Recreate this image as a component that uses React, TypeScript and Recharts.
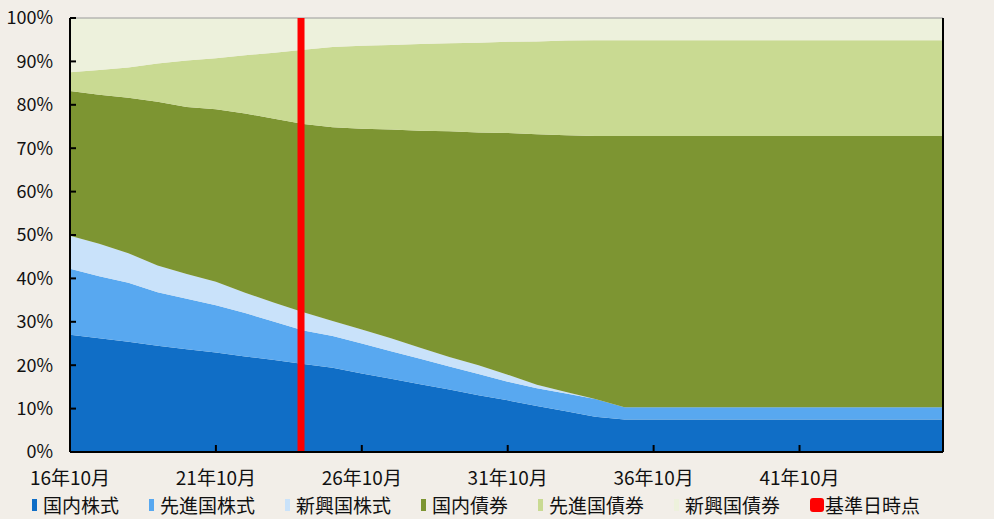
import { AreaChart, Area, XAxis, YAxis, ReferenceLine, Legend } from 'recharts';

// months elapsed since 16年10月 (one point a year, last point is 46年9月)
const monthIndex = [
  0, 12, 24, 36, 48, 60, 72, 84, 96, 108, 120, 132, 144, 156, 168, 180,
  192, 204, 216, 228, 240, 252, 264, 276, 288, 300, 312, 324, 336, 348, 359,
];

const domesticStock = [
  27.0, 26.2, 25.4, 24.5, 23.7, 22.9, 22.0, 21.2, 20.3, 19.4, 18.1, 16.9, 15.6, 14.4, 13.1, 11.9,
  10.6, 9.4, 8.1, 7.5, 7.5, 7.5, 7.5, 7.5, 7.5, 7.5, 7.5, 7.5, 7.5, 7.5, 7.5,
];
const developedStock = [
  15.2, 14.3, 13.6, 12.3, 11.6, 10.9, 10.0, 8.8, 7.7, 7.3, 6.9, 6.3, 5.9, 5.3, 4.9, 4.3,
  4.1, 4.1, 4.1, 2.8, 2.8, 2.8, 2.8, 2.8, 2.8, 2.8, 2.8, 2.8, 2.8, 2.8, 2.8,
];
const emergingStock = [
  7.6, 7.5, 6.8, 6.2, 5.7, 5.4, 4.7, 4.4, 4.2, 3.5, 3.2, 3.0, 2.5, 2.2, 2.0, 1.6,
  0.8, 0.3, 0, 0, 0, 0, 0, 0, 0, 0, 0, 0, 0, 0, 0,
];
const domesticBond = [
  33.4, 34.3, 35.8, 37.7, 38.5, 39.8, 41.3, 42.4, 43.4, 44.6, 46.3, 48.1, 50.0, 52.0, 53.6, 55.7,
  57.7, 59.2, 60.6, 62.5, 62.5, 62.5, 62.5, 62.5, 62.5, 62.5, 62.5, 62.5, 62.5, 62.5, 62.5,
];
const developedBond = [
  4.3, 5.7, 7.0, 8.8, 10.7, 11.7, 13.4, 15.2, 17.1, 18.5, 19.1, 19.5, 20.0, 20.3, 20.7, 21.0,
  21.4, 21.8, 22.1, 22.1, 22.1, 22.1, 22.1, 22.1, 22.1, 22.1, 22.1, 22.1, 22.1, 22.1, 22.1,
];
const emergingBond = [
  12.5, 12.0, 11.4, 10.5, 9.8, 9.3, 8.6, 8.0, 7.3, 6.7, 6.4, 6.2, 6.0, 5.8, 5.7, 5.5,
  5.4, 5.2, 5.1, 5.1, 5.1, 5.1, 5.1, 5.1, 5.1, 5.1, 5.1, 5.1, 5.1, 5.1, 5.1,
];

const xTicks = [0, 60, 120, 180, 240, 300];
const xTickLabels = ['16年10月', '21年10月', '26年10月', '31年10月', '36年10月', '41年10月'];
const yTicks = [0, 10, 20, 30, 40, 50, 60, 70, 80, 90, 100];
const baseDateMonth = 95; // 基準日時点

const series = [
  { key: 'domesticStock', name: '国内株式', color: '#106EC6', values: domesticStock },
  { key: 'developedStock', name: '先進国株式', color: '#58A8F0', values: developedStock },
  { key: 'emergingStock', name: '新興国株式', color: '#C9E2FA', values: emergingStock },
  { key: 'domesticBond', name: '国内債券', color: '#7D9532', values: domesticBond },
  { key: 'developedBond', name: '先進国債券', color: '#C9DA92', values: developedBond },
  { key: 'emergingBond', name: '新興国債券', color: '#EDF1DC', values: emergingBond },
];

const data = monthIndex.map((m, i) => {
  const row: Record<string, number> = { month: m };
  series.forEach((s) => {
    row[s.key] = s.values[i];
  });
  return row;
});

const FONT = '"Noto Sans CJK JP", "Noto Sans", sans-serif';

const LeftTick = (props: any) => {
  const { x, y, payload } = props;
  return (
    <g>
      <line x1={x} x2={x + 6} y1={y} y2={y} stroke="#000" strokeWidth={2} />
      <text x={x - 17} y={y} dy="0.36em" textAnchor="end" fontSize={18} fill="#111" fontFamily={FONT}>
        {payload.value}%
      </text>
    </g>
  );
};

const RightTick = (props: any) => {
  const { x, y, payload } = props;
  return (
    <g>
      <line x1={x} x2={x - 6} y1={y} y2={y} stroke="#000" strokeWidth={2} />
      <text x={x + 20} y={y} dy="0.36em" textAnchor="start" fontSize={18} fill="#111" fontFamily={FONT}>
        {payload.value}%
      </text>
    </g>
  );
};

const BottomTick = (props: any) => {
  const { x, y, payload } = props;
  const idx = xTicks.indexOf(payload.value);
  return (
    <g>
      <line x1={x} x2={x} y1={y} y2={y - 7} stroke="#000" strokeWidth={2} />
      <text x={x} y={y + 26} dy="0.36em" textAnchor="middle" fontSize={19} fill="#111" fontFamily={FONT}>
        {xTickLabels[idx]}
      </text>
    </g>
  );
};

const LegendContent = () => (
  <div
    style={{
      display: 'flex',
      alignItems: 'center',
      paddingLeft: 32,
      paddingTop: 2,
      fontFamily: FONT,
      fontSize: 19,
      color: '#111',
      lineHeight: '22px',
    }}
  >
    {series.map((s) => (
      <div key={s.key} style={{ display: 'flex', alignItems: 'center', marginRight: 30 }}>
        <span style={{ width: 5, height: 12, background: s.color, marginRight: 6 }} />
        <span>{s.name}</span>
      </div>
    ))}
    <div style={{ display: 'flex', alignItems: 'center' }}>
      <span style={{ width: 14, height: 14, borderRadius: 3, background: '#FF0000', marginRight: 1 }} />
      <span>基準日時点</span>
    </div>
  </div>
);

export default function App() {
  return (
    <div style={{ position: 'fixed', top: 0, left: 0, width: 994, height: 519, background: '#F2EEE8' }}>
      <AreaChart
        width={994}
        height={519}
        data={data}
        margin={{ top: 18, right: 0, left: 0, bottom: 0 }}
      >
        <XAxis
          dataKey="month"
          type="number"
          domain={[0, 359]}
          ticks={xTicks}
          tick={<BottomTick />}
          tickLine={false}
          tickSize={0}
          tickMargin={0}
          height={40}
          axisLine={{ stroke: '#000', strokeWidth: 2 }}
          interval={0}
        />
        <YAxis
          yAxisId="left"
          domain={[0, 100]}
          ticks={yTicks}
          tick={<LeftTick />}
          tickLine={false}
          tickSize={0}
          tickMargin={0}
          width={70}
          axisLine={{ stroke: '#000', strokeWidth: 2 }}
          interval={0}
        />
        <YAxis
          yAxisId="right"
          orientation="right"
          domain={[0, 100]}
          ticks={yTicks}
          tick={<RightTick />}
          tickLine={false}
          tickSize={0}
          tickMargin={0}
          width={51}
          axisLine={{ stroke: '#000', strokeWidth: 2 }}
          interval={0}
        />
        {series.map((s) => (
          <Area
            key={s.key}
            yAxisId="left"
            type="linear"
            dataKey={s.key}
            name={s.name}
            stackId="1"
            stroke="none"
            fill={s.color}
            fillOpacity={1}
            isAnimationActive={false}
          />
        ))}
        <ReferenceLine yAxisId="left" y={100} stroke="#9A9A9A" strokeWidth={1} />
        <ReferenceLine yAxisId="left" x={baseDateMonth} stroke="#FF0000" strokeWidth={7} />
        <Legend verticalAlign="bottom" height={27} content={<LegendContent />} />
      </AreaChart>
    </div>
  );
}
